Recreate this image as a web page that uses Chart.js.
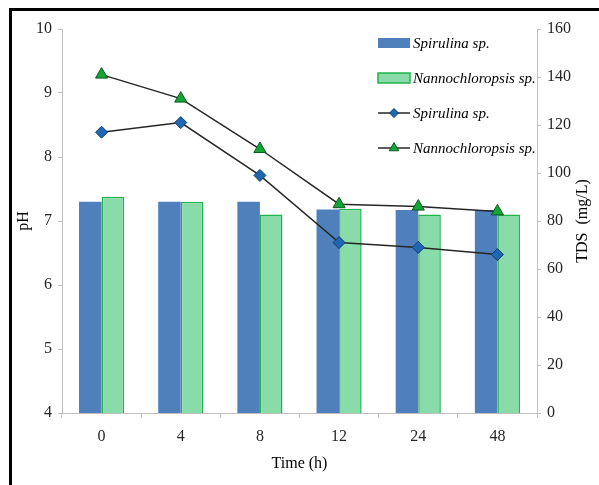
<!DOCTYPE html>
<html>
<head>
<meta charset="utf-8">
<title>pH and TDS over time</title>
<script src="https://cdn.jsdelivr.net/npm/chart.js@4.4.0/dist/chart.umd.min.js"></script>
<style>
    body { margin: 0; background: #fff; }
</style>
</head>
<body>
<canvas id="ph-tds-chart" width="599" height="485"></canvas>
<script>
// values
const timeLabels = ['0', '4', '8', '12', '24', '48'];
const phSpirulina = [7.3, 7.3, 7.3, 7.18, 7.17, 7.17];
const phNanno = [7.38, 7.3, 7.1, 7.19, 7.1, 7.1];
const tdsSpirulina = [117, 121, 99, 71, 69, 66];
const tdsNanno = [141, 131, 110, 87, 86, 84];

const serif = '"Liberation Serif", "Times New Roman", serif';
const axisGray = '#bfbfbf';

// outer frame (only top + left edges show in the original crop)
const framePlugin = {
    id: 'frame',
    beforeDraw(chart) {
        const c = chart.ctx;
        c.save();
        c.fillStyle = '#fff';
        c.fillRect(0, 0, chart.width, chart.height);
        c.fillStyle = '#000';
        c.fillRect(9, 8, chart.width - 9, 3);
        c.fillRect(9, 8, 3, chart.height - 8);
        c.restore();
    }
};

// legend drawn inside the plot, top right, and the right axis title (reads bottom to top)
const extrasPlugin = {
    id: 'extras',
    afterDraw(chart) {
        const c = chart.ctx;
        const right = chart.scales.y1;
        c.save();

        // right axis title
        c.font = '16px ' + serif;
        c.fillStyle = '#000';
        c.textAlign = 'center';
        c.textBaseline = 'middle';
        c.translate(583, (right.top + right.bottom) / 2);
        c.rotate(-Math.PI / 2);
        c.fillText('TDS  (mg/L)', 0, 0);
        c.restore();

        // legend
        c.save();
        c.font = 'italic 15px ' + serif;
        c.textAlign = 'left';
        c.textBaseline = 'middle';
        let y = 43;
        chart.data.datasets.forEach((ds) => {
            if (ds.type === 'bar') {
                c.fillStyle = ds.backgroundColor;
                c.fillRect(378, y - 5, 32, 10);
                if (ds.borderWidth) {
                    c.strokeStyle = ds.borderColor;
                    c.lineWidth = ds.borderWidth;
                    c.strokeRect(378, y - 5, 32, 10);
                }
            } else {
                c.strokeStyle = ds.borderColor;
                c.lineWidth = ds.borderWidth;
                c.beginPath();
                c.moveTo(378, y);
                c.lineTo(410, y);
                c.stroke();
                c.fillStyle = ds.pointBackgroundColor;
                c.strokeStyle = ds.pointBorderColor;
                c.lineWidth = 1;
                Chart.helpers.drawPoint(c, {
                    pointStyle: ds.pointStyle,
                    radius: ds.pointRadius - 1.5,
                    rotation: 0,
                    borderWidth: 1
                }, 394, y);
            }
            c.fillStyle = '#000';
            c.fillText(ds.label, 413, y + 1);
            y += 35;
        });
        c.restore();
    }
};

new Chart(document.getElementById('ph-tds-chart'), {
    data: {
        labels: timeLabels,
        datasets: [
            {
                type: 'bar',
                label: 'Spirulina sp.',
                data: phSpirulina,
                yAxisID: 'y',
                backgroundColor: '#4f80bc',
                borderWidth: 0,
                order: 1
            },
            {
                type: 'bar',
                label: 'Nannochloropsis sp.',
                data: phNanno,
                yAxisID: 'y',
                backgroundColor: '#8adbaa',
                borderColor: '#22b24c',
                borderWidth: 1.5,
                order: 1
            },
            {
                type: 'line',
                label: 'Spirulina sp.',
                data: tdsSpirulina,
                yAxisID: 'y1',
                borderColor: '#262626',
                borderWidth: 1.5,
                pointStyle: 'rectRot',
                pointRadius: 6,
                pointBackgroundColor: '#1f66b3',
                pointBorderColor: '#0f3d6e',
                pointBorderWidth: 1,
                tension: 0,
                order: 0
            },
            {
                type: 'line',
                label: 'Nannochloropsis sp.',
                data: tdsNanno,
                yAxisID: 'y1',
                borderColor: '#262626',
                borderWidth: 1.5,
                pointStyle: 'triangle',
                pointRadius: 7,
                pointBackgroundColor: '#12a538',
                pointBorderColor: '#0b5a1f',
                pointBorderWidth: 1,
                tension: 0,
                order: 0
            }
        ]
    },
    options: {
        responsive: false,
        animation: false,
        layout: {
            padding: { top: 29, left: 12, right: 0, bottom: 0 }
        },
        datasets: {
            bar: {
                categoryPercentage: 0.57,
                barPercentage: 1.0
            }
        },
        plugins: {
            legend: { display: false },
            tooltip: { enabled: false }
        },
        scales: {
            x: {
                grid: {
                    display: true,
                    drawOnChartArea: false,
                    tickLength: 5,
                    color: axisGray
                },
                border: { color: axisGray },
                ticks: {
                    padding: 9,
                    color: '#262626',
                    font: { family: serif, size: 16 }
                },
                title: {
                    display: true,
                    text: 'Time (h)',
                    color: '#000',
                    font: { family: serif, size: 16 },
                    padding: { top: 0, bottom: 12 }
                },
                afterFit(scale) {
                    scale.height = 72;
                }
            },
            y: {
                position: 'left',
                min: 4,
                max: 10,
                ticks: {
                    stepSize: 1,
                    padding: 6,
                    color: '#262626',
                    font: { family: serif, size: 16 }
                },
                grid: {
                    drawOnChartArea: false,
                    tickLength: 4,
                    color: axisGray
                },
                border: { color: axisGray },
                title: {
                    display: true,
                    text: 'pH',
                    color: '#000',
                    font: { family: serif, size: 16 },
                    padding: { top: 2, bottom: 0 }
                },
                afterFit(scale) {
                    scale.width = 50;
                }
            },
            y1: {
                position: 'right',
                min: 0,
                max: 160,
                ticks: {
                    stepSize: 20,
                    padding: 6,
                    color: '#262626',
                    font: { family: serif, size: 16 }
                },
                grid: {
                    drawOnChartArea: false,
                    tickLength: 4,
                    color: axisGray
                },
                border: { color: axisGray },
                afterFit(scale) {
                    scale.width = 62;
                }
            }
        }
    },
    plugins: [framePlugin, extrasPlugin]
});
</script>
</body>
</html>
